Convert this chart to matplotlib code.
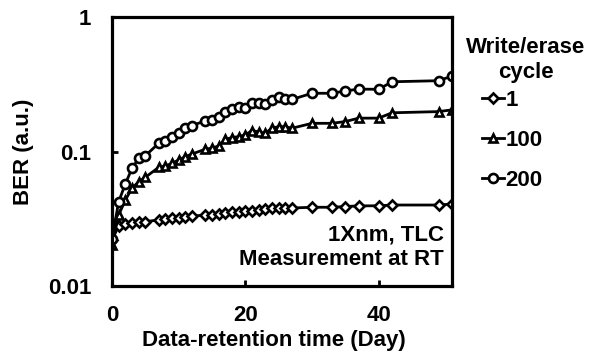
import numpy as np
import matplotlib
matplotlib.use("Agg")
import matplotlib.pyplot as plt
from matplotlib.ticker import FixedLocator, NullLocator, FixedFormatter

plt.rcParams['font.family'] = ['Liberation Sans', 'DejaVu Sans']
plt.rcParams['font.weight'] = 'bold'

# Data-retention time (day)
days = [0, 1, 2, 3, 4, 5, 7, 8, 9, 10, 11, 12, 14, 15, 16, 17, 18, 19, 20,
        21, 22, 23, 24, 25, 26, 27, 30, 33, 35, 37, 40, 42, 49, 51]

# BER per write/erase cycle count
ber_1 = [0.022, 0.0279, 0.0287, 0.0292, 0.0301, 0.0301, 0.031, 0.0313, 0.0319,
         0.0319, 0.0324, 0.0331, 0.0337, 0.0340, 0.0344, 0.0348, 0.0352, 0.0356,
         0.0360, 0.0364, 0.0368, 0.0372, 0.0378, 0.0382, 0.0380, 0.0380, 0.0385,
         0.0385, 0.039, 0.0394, 0.0395, 0.040, 0.040, 0.0407]
ber_100 = [0.0202, 0.0337, 0.0436, 0.0532, 0.0597, 0.0643, 0.0762, 0.078, 0.0817,
           0.0865, 0.0915, 0.0958, 0.104, 0.106, 0.110, 0.123, 0.127, 0.129, 0.133,
           0.143, 0.140, 0.137, 0.149, 0.153, 0.153, 0.149, 0.162, 0.162, 0.167,
           0.177, 0.177, 0.194, 0.198, 0.204]
ber_200 = [0.0223, 0.0423, 0.0574, 0.075, 0.089, 0.093, 0.115, 0.120, 0.129,
           0.138, 0.149, 0.156, 0.169, 0.172, 0.181, 0.198, 0.206, 0.215, 0.209,
           0.231, 0.229, 0.226, 0.241, 0.256, 0.244, 0.244, 0.271, 0.271, 0.282,
           0.291, 0.290, 0.330, 0.336, 0.364]

series = [("1", ber_1, "D", 5.5), ("100", ber_100, "^", 6.0), ("200", ber_200, "o", 6.5)]
fs = 16

fig = plt.figure(figsize=(5.91, 3.58), dpi=100)
ax = fig.add_axes([112/591, 1-286/358, (452-112)/591, (286-17)/358])

handles = []
for label, vals, mk, ms in series:
    h, = ax.plot(days, vals, color="black", lw=2.0, marker=mk, ms=ms,
                 mfc="white", mec="black", mew=1.9, label=label)
    handles.append(h)

ax.set_yscale("log")
ax.set_ylim(0.01, 1)
ax.set_xlim(0, 51)
ax.yaxis.set_major_locator(FixedLocator([0.01, 0.1, 1]))
ax.yaxis.set_major_formatter(FixedFormatter(["0.01", "0.1", "1"]))
ax.yaxis.set_minor_locator(NullLocator())
ax.set_xticks([0, 20, 40])

for s in ax.spines.values():
    s.set_linewidth(2.3)
ax.tick_params(axis="both", direction="in", length=4, width=2, labelsize=fs)
ax.tick_params(axis="y", pad=15)
ax.tick_params(axis="x", pad=14)

ax.set_xlabel("Data-retention time (Day)", fontsize=fs, fontweight="bold", labelpad=5)
ax.xaxis.set_label_coords(0.475, -0.165)
ax.set_ylabel("BER (a.u.)", fontsize=fs, fontweight="bold", labelpad=10)

ax.text(0.975, 0.19, "1Xnm, TLC", transform=ax.transAxes, ha="right", va="center",
        fontsize=fs, fontweight="bold")
ax.text(0.975, 0.10, "Measurement at RT", transform=ax.transAxes, ha="right", va="center",
        fontsize=fs, fontweight="bold")

fig.text(526/591, 1-60/358, "Write/erase\ncycle", ha="center", va="center",
         fontsize=fs, fontweight="bold", linespacing=1.25)
fig.legend(handles=handles, loc="upper left", bbox_to_anchor=(482/591, 1-90/358),
           frameon=False, fontsize=fs, handlelength=1.0, handletextpad=0.05,
           labelspacing=0.85, borderpad=0, borderaxespad=0)

fig.savefig("out.png", dpi=100)
